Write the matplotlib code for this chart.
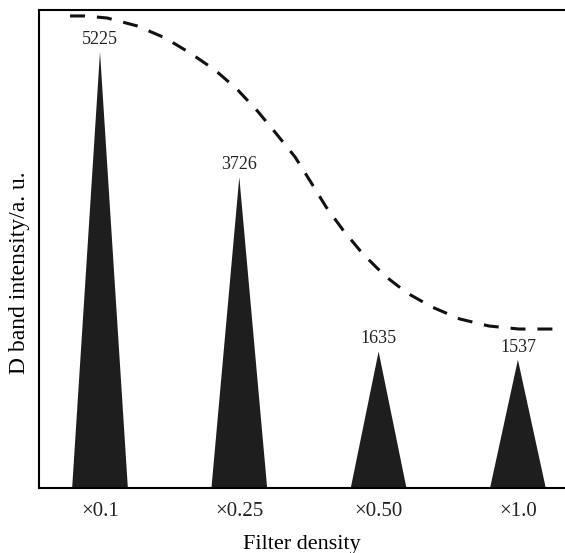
import matplotlib
matplotlib.use("Agg")
import matplotlib.pyplot as plt

plt.rcParams['font.family'] = ['Liberation Serif', 'DejaVu Serif']

categories = ['×0.1', '×0.25', '×0.50', '×1.0']
values = [5225, 3726, 1635, 1537]

# dashed trend curve, x in category-index units
curve_x = [-0.215, -0.108, 0.050, 0.266, 0.467, 0.646, 0.825, 0.983, 1.134, 1.263,
           1.400, 1.508, 1.622, 1.744, 1.881, 2.046, 2.204, 2.383, 2.584, 2.793,
           3.008, 3.281]
curve_y = [5656, 5656, 5632, 5537, 5393, 5213, 5009, 4780, 4510, 4250,
           3967, 3680, 3370, 3092, 2816, 2541, 2337, 2169, 2025, 1941,
           1905, 1905]

fig = plt.figure(figsize=(5.65, 5.53), dpi=100)
ax = fig.add_axes([0.069, 0.1175, 0.931, 0.8645])

half_w = 0.2
for i, v in enumerate(values):
    ax.fill([i - half_w, i, i + half_w], [0, v, 0], color='#1e1e1e', lw=0)
    ax.annotate(str(v), xy=(i, v), xytext=(0, 3), textcoords='offset points',
                ha='center', va='bottom', fontsize=13, color='#222222')

ax.plot(curve_x, curve_y, color='#111111', lw=2.2, ls=(0, (4.9, 3.9)),
        solid_capstyle='butt', dash_capstyle='butt')

ax.set_xlim(-0.438, 3.338)
ax.set_ylim(0, 5728)
ax.set_xticks(range(len(categories)))
ax.set_xticklabels(categories, fontsize=15, color='#222222')
ax.set_yticks([])
ax.tick_params(axis='x', length=0, pad=10)
ax.set_xlabel('Filter density', fontsize=16, labelpad=10)
ax.set_ylabel('D band intensity/a. u.', fontsize=17)
ax.yaxis.set_label_coords(-0.017, 0.45)
ax.spines['right'].set_visible(False)
for s in ['left', 'bottom', 'top']:
    ax.spines[s].set_linewidth(1.5)

fig.savefig('out.png', dpi=100)
